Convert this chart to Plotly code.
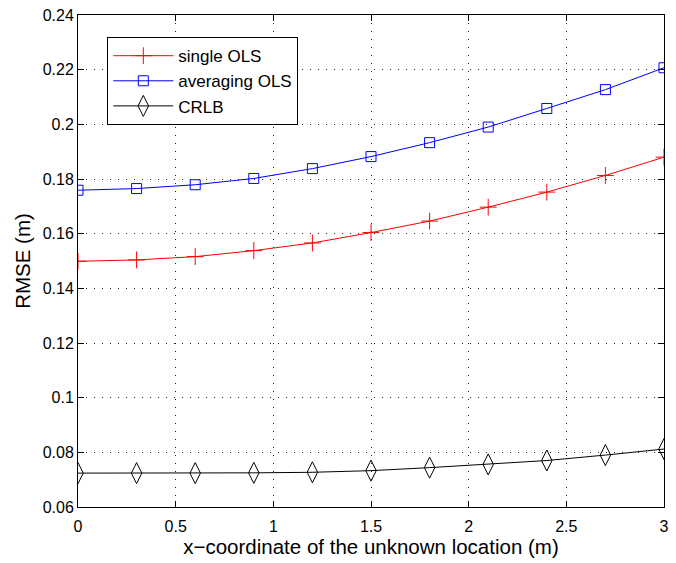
import plotly.graph_objects as go

x = [0, 0.3, 0.6, 0.9, 1.2, 1.5, 1.8, 2.1, 2.4, 2.7, 3.0]
single_ols = [0.1499, 0.1504, 0.1516, 0.1538, 0.1566, 0.1604, 0.1646, 0.1697, 0.1752, 0.1813, 0.1880]
averaging_ols = [0.1759, 0.1765, 0.1779, 0.1802, 0.1838, 0.1882, 0.1933, 0.1990, 0.2058, 0.2127, 0.2207]
crlb = [0.0724, 0.0724, 0.0724, 0.0725, 0.0727, 0.0733, 0.0744, 0.0756, 0.0770, 0.0790, 0.0812]

xticks = [0, 0.5, 1, 1.5, 2, 2.5, 3]
xticklabels = ["0", "0.5", "1", "1.5", "2", "2.5", "3"]
yticks = [0.06, 0.08, 0.1, 0.12, 0.14, 0.16, 0.18, 0.2, 0.22, 0.24]
yticklabels = ["0.06", "0.08", "0.1", "0.12", "0.14", "0.16", "0.18", "0.2", "0.22", "0.24"]

FONT = "Liberation Sans, Arial, Helvetica"

fig = go.Figure()
fig.add_trace(go.Scatter(x=x, y=single_ols, mode="lines+markers", name="single OLS",
                         legendgroup="a",
                         line=dict(color="#ff0000", width=1),
                         marker=dict(symbol="cross-thin-open", size=12, color="#ff0000",
                                     line=dict(color="#ff0000", width=1))))
fig.add_trace(go.Scatter(x=x, y=averaging_ols, mode="lines+markers", name="averaging OLS",
                         legendgroup="b",
                         line=dict(color="#0000ff", width=1),
                         marker=dict(symbol="square-open", size=10, color="#0000ff",
                                     line=dict(color="#0000ff", width=1))))
fig.add_trace(go.Scatter(x=x, y=crlb, mode="lines+markers", name="CRLB",
                         legendgroup="c",
                         line=dict(color="#000000", width=1),
                         marker=dict(symbol="diamond-tall-open", size=15, color="#000000",
                                     line=dict(color="#000000", width=1))))

axis_common = dict(showline=True, linecolor="black", linewidth=1, mirror="ticks",
                   ticks="inside", ticklen=6, tickcolor="black",
                   showgrid=True, gridcolor="#222222", griddash="1px,7px", gridwidth=1,
                   zeroline=False, tickfont=dict(family=FONT, size=16, color="black"))

fig.update_xaxes(range=[0, 3], tickvals=xticks, ticktext=xticklabels,
                 ticklabelstandoff=5,
                 title=dict(text="x\u2212coordinate of the unknown location (m)",
                            font=dict(family=FONT, size=20.5, color="black"),
                            standoff=1),
                 **axis_common)
fig.update_yaxes(range=[0.06, 0.24], tickvals=yticks, ticktext=yticklabels,
                 title=dict(text="RMSE (m)",
                            font=dict(family=FONT, size=20.5, color="black"),
                            standoff=6),
                 **axis_common)

fig.update_layout(
    width=676, height=563,
    margin=dict(l=78, r=7, t=13, b=56),
    paper_bgcolor="white", plot_bgcolor="white",
    showlegend=True,
    legend=dict(x=0.05, y=0.955, xanchor="left", yanchor="top",
                bgcolor="white", bordercolor="black", borderwidth=1,
                font=dict(family=FONT, size=17, color="black"),
                itemwidth=60, tracegroupgap=0),
    font=dict(family=FONT, color="black"),
)

fig.write_html("out.html")
